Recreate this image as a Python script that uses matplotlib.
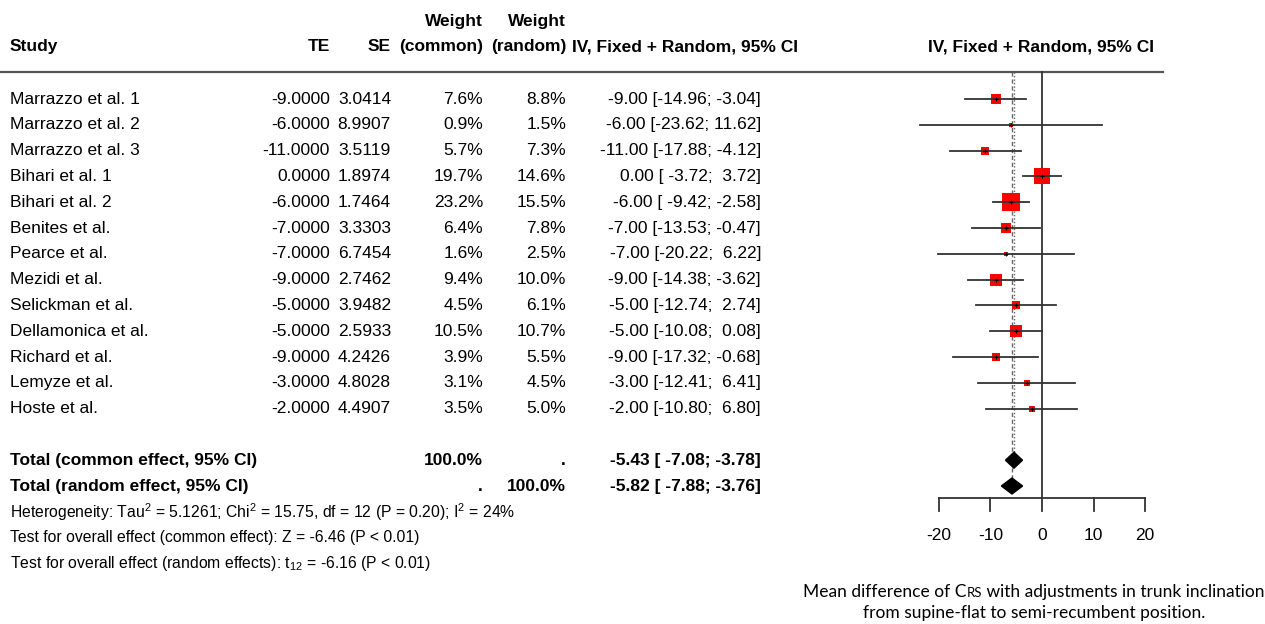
import numpy as np
import matplotlib
matplotlib.use("Agg")
import matplotlib.pyplot as plt
from matplotlib.offsetbox import TextArea, HPacker, AnnotationBbox

# study level data
studies = ["Marrazzo et al. 1", "Marrazzo et al. 2", "Marrazzo et al. 3", "Bihari et al. 1",
           "Bihari et al. 2", "Benites et al.", "Pearce et al.", "Mezidi et al.",
           "Selickman et al.", "Dellamonica et al.", "Richard et al.", "Lemyze et al.",
           "Hoste et al."]
te = [-9.0, -6.0, -11.0, 0.0, -6.0, -7.0, -7.0, -9.0, -5.0, -5.0, -9.0, -3.0, -2.0]
se = [3.0414, 8.9907, 3.5119, 1.8974, 1.7464, 3.3303, 6.7454, 2.7462, 3.9482,
      2.5933, 4.2426, 4.8028, 4.4907]
w_common = [7.6, 0.9, 5.7, 19.7, 23.2, 6.4, 1.6, 9.4, 4.5, 10.5, 3.9, 3.1, 3.5]
w_random = [8.8, 1.5, 7.3, 14.6, 15.5, 7.8, 2.5, 10.0, 6.1, 10.7, 5.5, 4.5, 5.0]
ci_lo = [-14.96, -23.62, -17.88, -3.72, -9.42, -13.53, -20.22, -14.38, -12.74,
         -10.08, -17.32, -12.41, -10.80]
ci_hi = [-3.04, 11.62, -4.12, 3.72, -2.58, -0.47, 6.22, -3.62, 2.74, 0.08,
         -0.68, 6.41, 6.80]

# pooled estimates: (estimate, lower, upper)
common_est = (-5.43, -7.08, -3.78)
random_est = (-5.82, -7.88, -3.76)
ticks = [-20, -10, 0, 10, 20]

plt.rcParams['font.family'] = ['Liberation Sans', 'DejaVu Sans']
plt.rcParams['mathtext.fontset'] = 'custom'
plt.rcParams['mathtext.rm'] = 'Liberation Sans'
plt.rcParams['mathtext.it'] = 'Liberation Sans:italic'
FS = 12.5
FS_NOTE = 11.3
GRAY = '#333333'

# layout: rows are 25.8 px apart, first study row at 99 px from the top
row_h = 25.8
y_bottom, y_top = (624 - 99) / row_h, -99 / row_h

fig = plt.figure(figsize=(12.65, 6.24), dpi=100)
tab = fig.add_axes([0, 0, 1, 1])
tab.set_xlim(0, 1265)
tab.set_ylim(y_bottom, y_top)
tab.axis('off')

px_unit = 5.16  # pixels per unit of effect
ax = fig.add_axes([900 / 1265, 0, 280 / 1265, 1])
ax.set_xlim((900 - 1042) / px_unit, (1180 - 1042) / px_unit)
ax.set_ylim(y_bottom, y_top)
ax.axis('off')

head_line = -1.05
axis_row = 15.47

# header
tab.text(483, -3.02, "Weight", ha='right', va='center', fontsize=FS, weight='bold')
tab.text(566, -3.02, "Weight", ha='right', va='center', fontsize=FS, weight='bold')
tab.text(10, -2.02, "Study", ha='left', va='center', fontsize=FS, weight='bold')
tab.text(330, -2.02, "TE", ha='right', va='center', fontsize=FS, weight='bold')
tab.text(391, -2.02, "SE", ha='right', va='center', fontsize=FS, weight='bold')
tab.text(483, -2.02, "(common)", ha='right', va='center', fontsize=FS, weight='bold')
tab.text(566, -2.02, "(random)", ha='right', va='center', fontsize=FS, weight='bold')
tab.text(572, -2.02, "IV, Fixed + Random, 95% CI", ha='left', va='center', fontsize=FS, weight='bold')
tab.text(1041, -2.02, "IV, Fixed + Random, 95% CI", ha='center', va='center', fontsize=FS, weight='bold')
tab.plot([0, 1163], [head_line, head_line], color='#555555', lw=1.6)

# study rows
for i, name in enumerate(studies):
    tab.text(10, i, name, ha='left', va='center', fontsize=FS)
    tab.text(330, i, f"{te[i]:.4f}", ha='right', va='center', fontsize=FS)
    tab.text(391, i, f"{se[i]:.4f}", ha='right', va='center', fontsize=FS)
    tab.text(483, i, f"{w_common[i]:.1f}%", ha='right', va='center', fontsize=FS)
    tab.text(566, i, f"{w_random[i]:.1f}%", ha='right', va='center', fontsize=FS)
    tab.text(761, i, f"{te[i]:.2f} [{ci_lo[i]:6.2f}; {ci_hi[i]:5.2f}]",
             ha='right', va='center', fontsize=FS)

# totals
r_c, r_r = len(studies) + 1, len(studies) + 2
tab.text(10, r_c, "Total (common effect, 95% CI)", ha='left', va='center', fontsize=FS, weight='bold')
tab.text(483, r_c, "100.0%", ha='right', va='center', fontsize=FS, weight='bold')
tab.text(566, r_c, ".", ha='right', va='center', fontsize=FS, weight='bold')
tab.text(761, r_c, f"{common_est[0]:.2f} [{common_est[1]:6.2f}; {common_est[2]:5.2f}]",
         ha='right', va='center', fontsize=FS, weight='bold')
tab.text(10, r_r, "Total (random effect, 95% CI)", ha='left', va='center', fontsize=FS, weight='bold')
tab.text(483, r_r, ".", ha='right', va='center', fontsize=FS, weight='bold')
tab.text(566, r_r, "100.0%", ha='right', va='center', fontsize=FS, weight='bold')
tab.text(761, r_r, f"{random_est[0]:.2f} [{random_est[1]:6.2f}; {random_est[2]:5.2f}]",
         ha='right', va='center', fontsize=FS, weight='bold')

tab.text(10, r_r + 1, r"Heterogeneity: Tau$^2$ = 5.1261; Chi$^2$ = 15.75, df = 12 (P = 0.20); I$^2$ = 24%",
         ha='left', va='center', fontsize=FS_NOTE)
tab.text(10, r_r + 2, "Test for overall effect (common effect): Z = -6.46 (P < 0.01)",
         ha='left', va='center', fontsize=FS_NOTE)
tab.text(10, r_r + 3, r"Test for overall effect (random effects): t$_{12}$ = -6.16 (P < 0.01)",
         ha='left', va='center', fontsize=FS_NOTE)

# forest part
ax.plot([0, 0], [head_line, axis_row], color=GRAY, lw=1.3, zorder=1)
ax.plot([common_est[0]] * 2, [head_line, r_c], color='#666666', lw=1.0, ls=(0, (1, 1.5)), zorder=1)
ax.plot([random_est[0]] * 2, [head_line, r_r], color='#666666', lw=1.0, ls=(0, (3, 2)), zorder=1)

for i in range(len(studies)):
    side = 3.6 * np.sqrt(w_common[i]) * 0.72
    ax.plot(te[i], i, marker='s', ms=side, color='red', mew=0, zorder=2)
    ax.plot([ci_lo[i], ci_hi[i]], [i, i], color=GRAY, lw=1.3, zorder=3)
    ax.plot(te[i], i, marker='+', ms=3, color='black', mew=0.8, zorder=4)

h = 0.31
for r, (est, lo, hi) in [(r_c, common_est), (r_r, random_est)]:
    ax.fill([lo, est, hi, est], [r, r - h, r, r + h], color='black', zorder=3)

# x axis
ax.plot([ticks[0], ticks[-1]], [axis_row, axis_row], color=GRAY, lw=1.3)
for t in ticks:
    ax.plot([t, t], [axis_row, axis_row + 0.5], color=GRAY, lw=1.3)
    ax.text(t, 16.9, f"{t}", ha='center', va='center', fontsize=FS)

# caption with small caps "RS"
cap_font = 'Lato'
p1 = TextArea("Mean difference of C", textprops=dict(fontsize=12.5, family=cap_font))
p2 = TextArea("RS", textprops=dict(fontsize=9.5, family=cap_font))
p3 = TextArea(" with adjustments in trunk inclination", textprops=dict(fontsize=12.5, family=cap_font))
line1 = HPacker(children=[p1, p2, p3], align='baseline', pad=0, sep=0)
tab.add_artist(AnnotationBbox(line1, (1034, 19.1), xycoords='data', frameon=False,
                              box_alignment=(0.5, 0.5), pad=0))
tab.text(1034, 19.92, "from supine-flat to semi-recumbent position.", ha='center', va='center',
         fontsize=12.5, family=cap_font)

plt.savefig("out.png", dpi=100)
